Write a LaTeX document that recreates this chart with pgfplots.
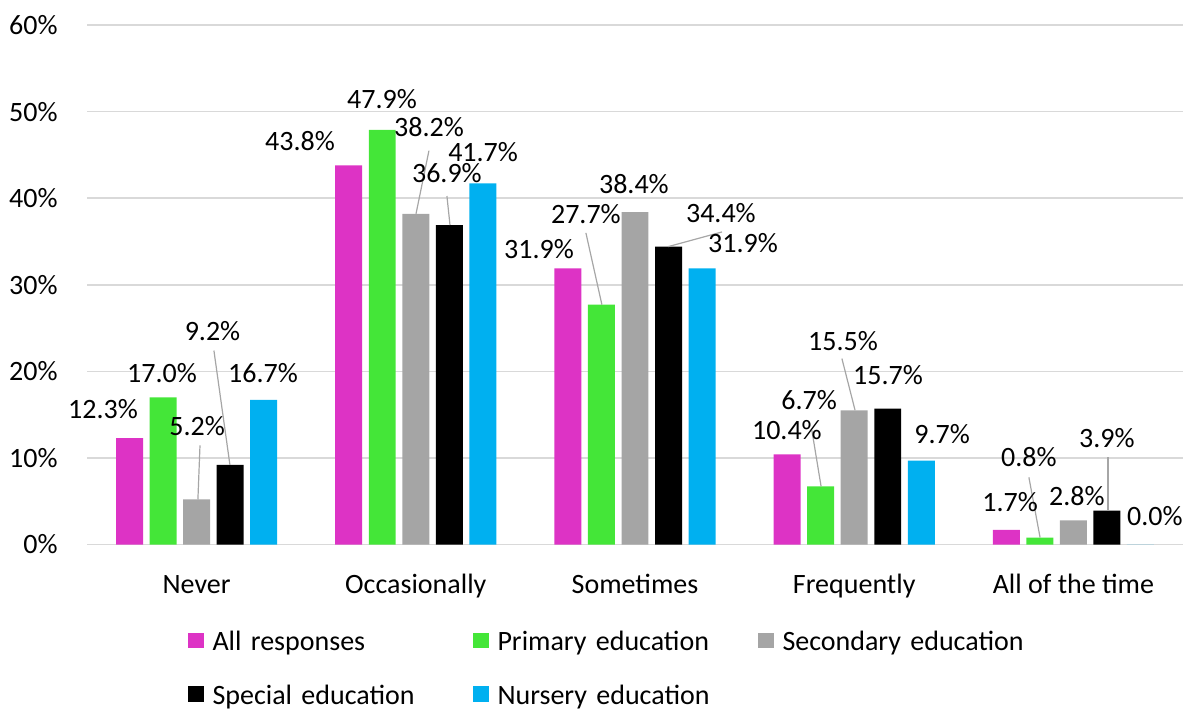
\documentclass[border=0pt]{standalone}
\usepackage{pgfplots}
\usepackage{pgfplotstable}
\pgfplotsset{compat=1.18}
\usepackage{fontspec}
\setmainfont{Carlito}
\definecolor{cMag}{HTML}{DD33C5}
\definecolor{cGrn}{HTML}{44E638}
\definecolor{cGry}{HTML}{A5A5A5}
\definecolor{cBlk}{HTML}{000000}
\definecolor{cCyn}{HTML}{00B0F0}
\definecolor{gridc}{HTML}{D9D9D9}
\definecolor{leadc}{HTML}{A6A6A6}

\pgfplotstableread{
x all prim sec spec nurs
0 12.3 17.0 5.2 9.2 16.7
1 43.8 47.9 38.2 36.9 41.7
2 31.9 27.7 38.4 34.4 31.9
3 10.4 6.7 15.5 15.7 9.7
4 1.7 0.8 2.8 3.9 0.0
}\data

\newcommand{\lbl}[3]{\node at (axis cs:#1,#2) {#3\%};}
\newcommand{\lead}[4]{\draw[leadc, line width=0.6pt] (axis cs:#1,#2) -- (axis cs:#3,#4);}

\begin{document}
\fontsize{14}{16.8}\selectfont
\begin{tikzpicture}
\path[use as bounding box] (0,0) rectangle (595pt,354.5pt);
\begin{axis}[
  at={(43.5pt,82.25pt)}, anchor=south west,
  scale only axis, width=548pt, height=259.75pt,
  xmin=-0.5, xmax=4.5, ymin=0, ymax=60,
  xtick={0,1,2,3,4},
  xticklabels={Never,Occasionally,Sometimes,Frequently,All of the time},
  ytick={0,10,20,30,40,50,60},
  yticklabels={0\%,10\%,20\%,30\%,40\%,50\%,60\%},
  ymajorgrids, grid style={gridc, line width=0.75pt},
  axis line style={draw=none},
  major tick length=0pt, tick style={draw=none},
  xticklabel style={anchor=base, inner sep=0pt, yshift=-24.25pt},
  yticklabel style={anchor=east, inner sep=0pt, xshift=-14.5pt},
  clip=false,
  legend columns=3,
  legend image code/.code={\fill[#1] (0pt,1.2pt) rectangle (8pt,9pt);},
  legend style={
    at={(axis description cs:0.0917,-0.1698)}, anchor=north west,
    draw=none, fill=none, inner sep=0pt, outer sep=0pt,
    font=\fontsize{14}{16.8}\selectfont,
    row sep=14.7pt,
    /tikz/every odd column/.style={column sep=4.5pt},
    /tikz/every even column/.style={column sep=0pt},
    cells={anchor=base west},
    nodes={inner xsep=0pt, inner ysep=0pt, text height=9pt, text depth=3pt, text width=130pt, align=left},
  },
]
\addplot[ybar, bar width=0.123, bar shift=-0.306, fill=cMag, draw=none] table[x=x,y=all]{\data};
\addlegendentry{All responses}
\addplot[ybar, bar width=0.123, bar shift=-0.153, fill=cGrn, draw=none] table[x=x,y=prim]{\data};
\addlegendentry{Primary education}
\addplot[ybar, bar width=0.123, bar shift=0, fill=cGry, draw=none] table[x=x,y=sec]{\data};
\addlegendentry{Secondary education}
\addplot[ybar, bar width=0.123, bar shift=0.153, fill=cBlk, draw=none] table[x=x,y=spec]{\data};
\addlegendentry{Special education}
\addplot[ybar, bar width=0.123, bar shift=0.306, fill=cCyn, draw=none] table[x=x,y=nurs]{\data};
\addlegendentry{Nursery education}

% leader lines
\lead{0.0155}{11.45}{0.006}{5.2}
\lead{0.079}{22.4}{0.152}{9.2}
\lead{1.060}{45.49}{1.001}{38.2}
\lead{1.142}{40.25}{1.156}{36.9}
\lead{1.776}{35.99}{1.849}{27.7}
\lead{2.151}{34.4}{2.397}{36.1}
\lead{2.807}{13.17}{2.849}{6.7}
\lead{2.944}{21.47}{3.004}{15.5}
\lead{3.797}{7.76}{3.848}{0.8}
\lead{4.158}{10.06}{4.158}{3.9}

% data labels
\lbl{-0.427}{15.59}{12.3}
\lbl{-0.158}{19.85}{17.0}
\lbl{0.002}{13.63}{5.2}
\lbl{0.0725}{24.69}{9.2}
\lbl{0.303}{19.85}{16.7}
\lbl{0.472}{46.59}{43.8}
\lbl{0.846}{51.43}{47.9}
\lbl{1.060}{48.2}{38.2}
\lbl{1.307}{45.32}{41.7}
\lbl{1.142}{42.9}{36.9}
\lbl{1.562}{34.14}{31.9}
\lbl{1.776}{38.18}{27.7}
\lbl{1.995}{41.63}{38.4}
\lbl{2.392}{38.29}{34.4}
\lbl{2.493}{34.84}{31.9}
\lbl{2.693}{13.17}{10.4}
\lbl{2.794}{16.63}{6.7}
\lbl{2.949}{23.54}{15.5}
\lbl{3.154}{19.62}{15.7}
\lbl{3.401}{12.71}{9.7}
\lbl{3.711}{4.87}{1.7}
\lbl{3.797}{10.06}{0.8}
\lbl{4.016}{5.57}{2.8}
\lbl{4.153}{12.25}{3.9}
\lbl{4.372}{3.26}{0.0}
\end{axis}
\end{tikzpicture}
\end{document}
